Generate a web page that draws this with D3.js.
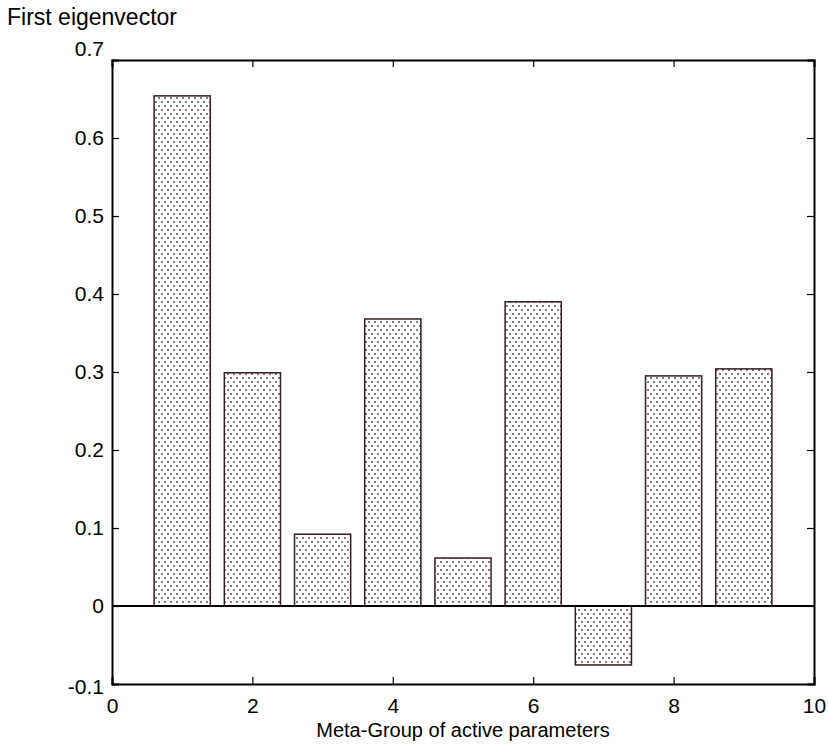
<!DOCTYPE html>
<html>
<head>
<meta charset="utf-8">
<script src="https://cdn.jsdelivr.net/npm/d3@7"></script>
<style>
  body { margin: 0; background: #fff; }
  svg { display: block; font-family: "Liberation Sans", Arial, sans-serif; }
</style>
</head>
<body>
<div id="chart"></div>
<script>
// data
const groups = [1, 2, 3, 4, 5, 6, 7, 8, 9];
const values = [0.654, 0.299, 0.092, 0.368, 0.0615, 0.390, -0.0756, 0.295, 0.304];
const xTicks = [0, 2, 4, 6, 8, 10];
const yTicks = [-0.1, 0, 0.1, 0.2, 0.3, 0.4, 0.5, 0.6, 0.7];

const width = 828, height = 749;
const margin = { top: 60, right: 14, bottom: 65, left: 112 };
const innerW = width - margin.left - margin.right;
const innerH = height - margin.top - margin.bottom;

const svg = d3.select("#chart").append("svg")
  .attr("width", width)
  .attr("height", height);

// dotted fill, like the old matlab hatch
const defs = svg.append("defs");
const pat = defs.append("pattern")
  .attr("id", "dots")
  .attr("patternUnits", "userSpaceOnUse")
  .attr("width", 6)
  .attr("height", 8);
pat.append("rect").attr("width", 6).attr("height", 8).attr("fill", "#fff");
pat.append("rect").attr("x", 1).attr("y", 1).attr("width", 2).attr("height", 2).attr("fill", "#7a7a7a");
pat.append("rect").attr("x", 4).attr("y", 5).attr("width", 2).attr("height", 2).attr("fill", "#7a7a7a");

const g = svg.append("g").attr("transform", `translate(${margin.left},${margin.top})`);

const x = d3.scaleLinear().domain([0, 10]).range([0, innerW]);
const y = d3.scaleLinear().domain([-0.1, 0.7]).range([innerH, 0]);

const barW = 0.8;

// bars
g.selectAll("rect.bar")
  .data(groups.map((k, i) => ({ k, v: values[i] })))
  .enter()
  .append("rect")
  .attr("class", "bar")
  .attr("x", d => x(d.k - barW / 2))
  .attr("width", d => x(d.k + barW / 2) - x(d.k - barW / 2))
  .attr("y", d => y(Math.max(0, d.v)))
  .attr("height", d => Math.abs(y(d.v) - y(0)))
  .attr("fill", "url(#dots)")
  .attr("stroke", "#3a1c1c")
  .attr("stroke-width", 1.5);

// zero line
g.append("line")
  .attr("x1", 0).attr("x2", innerW)
  .attr("y1", y(0)).attr("y2", y(0))
  .attr("stroke", "#000")
  .attr("stroke-width", 2);

// axes, ticks pointing inward on all four sides
const tickLen = 7;
const fmt = d => d3.format("")(d).replace("−", "-");

const axLeft = g.append("g")
  .call(d3.axisLeft(y).tickValues(yTicks).tickSize(-tickLen).tickPadding(8).tickFormat(fmt));
const axRight = g.append("g")
  .attr("transform", `translate(${innerW},0)`)
  .call(d3.axisRight(y).tickValues(yTicks).tickSize(-tickLen).tickFormat(""));
const axBottom = g.append("g")
  .attr("transform", `translate(0,${innerH})`)
  .call(d3.axisBottom(x).tickValues(xTicks).tickSize(-tickLen).tickPadding(14).tickFormat(fmt));
const axTop = g.append("g")
  .call(d3.axisTop(x).tickValues(xTicks).tickSize(-tickLen).tickFormat(""));

[axLeft, axRight, axBottom, axTop].forEach(a => {
  a.select(".domain").attr("stroke", "#000").attr("stroke-width", 2);
  a.selectAll(".tick line").attr("stroke", "#000").attr("stroke-width", 1.2);
  a.selectAll("text").attr("font-size", 21).attr("fill", "#000")
    .attr("font-family", "'Liberation Sans', Arial, sans-serif");
});

// end labels sit a bit off their ticks in the original
axLeft.selectAll(".tick text")
  .attr("y", d => d === 0.7 ? -11 : d === -0.1 ? 3 : 0);

// axis titles
svg.append("text")
  .attr("x", 7)
  .attr("y", 25)
  .attr("font-size", 23)
  .text("First eigenvector");

svg.append("text")
  .attr("x", margin.left + innerW / 2)
  .attr("y", 737)
  .attr("text-anchor", "middle")
  .attr("font-size", 20)
  .text("Meta-Group of active parameters");
</script>
</body>
</html>
